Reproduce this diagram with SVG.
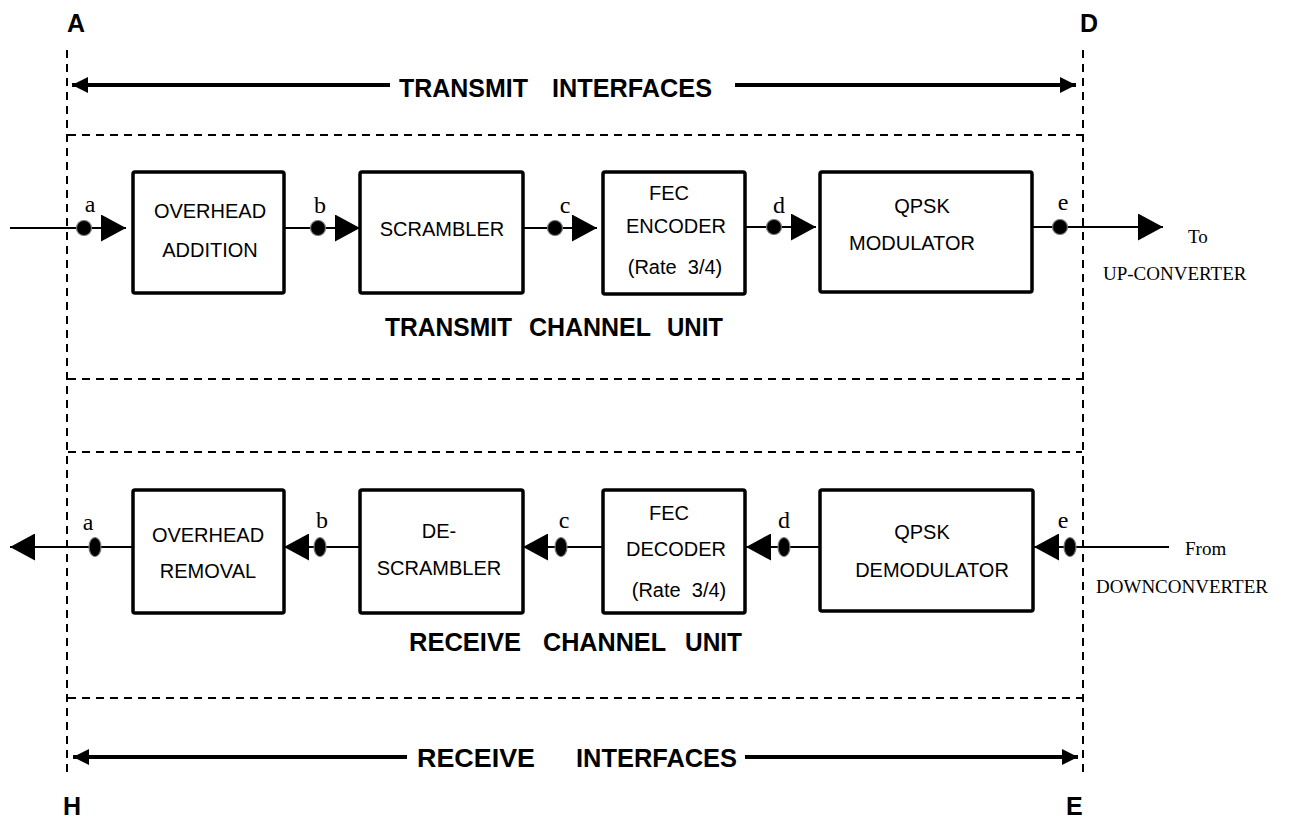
<svg xmlns="http://www.w3.org/2000/svg" width="1296" height="821" viewBox="0 0 1296 821">
<style>
.box{fill:#fff;stroke:#000;stroke-width:3.5}
.dash{fill:none;stroke:#000;stroke-width:2;stroke-dasharray:8 6}
.conn{stroke:#000;stroke-width:2;fill:none}
.iface{stroke:#000;stroke-width:4;fill:none}
.lbl{font-family:"Liberation Sans",Arial,sans-serif;font-size:20px;text-anchor:middle;fill:#000}
.bold{font-family:"Liberation Sans",Arial,sans-serif;font-weight:bold;fill:#000}
.tm{font-family:"Liberation Serif","Times New Roman",serif;fill:#000}
.pt{font-size:24px;text-anchor:middle}
.ext{font-size:19px}
.dot{fill:#000;stroke:#777;stroke-width:1.2}
</style>
<defs>
<marker id="ah" markerUnits="userSpaceOnUse" markerWidth="25" markerHeight="27" refX="25" refY="13.5" orient="auto">
<path d="M0,0 L25,13.5 L0,27 z" fill="#000"/>
</marker>
<marker id="ahs" markerUnits="userSpaceOnUse" markerWidth="16" markerHeight="16" refX="16" refY="8" orient="auto">
<path d="M0,0 L16,8 L0,16 z" fill="#000"/>
</marker>
</defs>
<rect width="1296" height="821" fill="#fff"/>

<g id="frame">
<line class="dash" x1="67" y1="50" x2="67" y2="775"/>
<line class="dash" x1="1083" y1="50" x2="1083" y2="775"/>
<line class="dash" x1="68" y1="135" x2="1082" y2="135"/>
<line class="dash" x1="68" y1="379" x2="1082" y2="379"/>
<line class="dash" x1="68" y1="452" x2="1082" y2="452"/>
<line class="dash" x1="68" y1="698" x2="1082" y2="698"/>
<text class="bold" x="67" y="32" font-size="25">A</text>
<text class="bold" x="1080" y="32" font-size="25">D</text>
<text class="bold" x="63" y="815" font-size="25">H</text>
<text class="bold" x="1066" y="815" font-size="25">E</text>
</g>

<g id="transmit-interfaces">
<line class="iface" x1="390" y1="85" x2="72" y2="85" marker-end="url(#ahs)"/>
<line class="iface" x1="735" y1="85" x2="1076" y2="85" marker-end="url(#ahs)"/>
<text class="bold" y="97" font-size="26"><tspan x="399" textLength="129" lengthAdjust="spacingAndGlyphs">TRANSMIT</tspan><tspan x="552" textLength="160" lengthAdjust="spacingAndGlyphs">INTERFACES</tspan></text>
</g>

<g id="receive-interfaces">
<line class="iface" x1="407" y1="757" x2="73" y2="757" marker-end="url(#ahs)"/>
<line class="iface" x1="745" y1="757" x2="1078" y2="757" marker-end="url(#ahs)"/>
<text class="bold" y="767" font-size="26"><tspan x="417" textLength="118" lengthAdjust="spacingAndGlyphs">RECEIVE</tspan><tspan x="576" textLength="161" lengthAdjust="spacingAndGlyphs">INTERFACES</tspan></text>
</g>

<g id="transmit-unit-label">
<text class="bold" y="336" font-size="25"><tspan x="385" textLength="127" lengthAdjust="spacingAndGlyphs">TRANSMIT</tspan><tspan x="529" textLength="122" lengthAdjust="spacingAndGlyphs">CHANNEL</tspan><tspan x="667" textLength="56" lengthAdjust="spacingAndGlyphs">UNIT</tspan></text>
</g>
<g id="receive-unit-label">
<text class="bold" y="651" font-size="25"><tspan x="409" textLength="112" lengthAdjust="spacingAndGlyphs">RECEIVE</tspan><tspan x="543" textLength="123" lengthAdjust="spacingAndGlyphs">CHANNEL</tspan><tspan x="685" textLength="57" lengthAdjust="spacingAndGlyphs">UNIT</tspan></text>
</g>

<g id="connectors">
<line class="conn" x1="10" y1="228" x2="126" y2="228" marker-end="url(#ah)"/>
<line class="conn" x1="284" y1="228" x2="360" y2="228" marker-end="url(#ah)"/>
<line class="conn" x1="523" y1="228" x2="597" y2="228" marker-end="url(#ah)"/>
<line class="conn" x1="745" y1="227" x2="816" y2="227" marker-end="url(#ah)"/>
<line class="conn" x1="1032" y1="227" x2="1163" y2="227" marker-end="url(#ah)"/>
<line class="conn" x1="133" y1="547" x2="10" y2="547" marker-end="url(#ah)"/>
<line class="conn" x1="360" y1="547" x2="284" y2="547" marker-end="url(#ah)"/>
<line class="conn" x1="603" y1="547" x2="523" y2="547" marker-end="url(#ah)"/>
<line class="conn" x1="820" y1="547" x2="746" y2="547" marker-end="url(#ah)"/>
<line class="conn" x1="1169" y1="547" x2="1034" y2="547" marker-end="url(#ah)"/>
</g>

<g id="points">
<circle class="dot" cx="84" cy="228" r="7.5"/>
<circle class="dot" cx="318" cy="228" r="7.5"/>
<circle class="dot" cx="555" cy="228" r="7.5"/>
<circle class="dot" cx="774" cy="227" r="7.5"/>
<circle class="dot" cx="1060" cy="227" r="7.5"/>
<ellipse class="dot" cx="95" cy="547" rx="6" ry="9.5"/>
<ellipse class="dot" cx="320" cy="547" rx="6" ry="9.5"/>
<ellipse class="dot" cx="561" cy="547" rx="6" ry="9.5"/>
<ellipse class="dot" cx="784" cy="547" rx="6" ry="9.5"/>
<ellipse class="dot" cx="1070" cy="547" rx="6" ry="9.5"/>
<text class="tm pt" x="90" y="212">a</text>
<text class="tm pt" x="320" y="213">b</text>
<text class="tm pt" x="565" y="213">c</text>
<text class="tm pt" x="779" y="213">d</text>
<text class="tm pt" x="1063" y="210">e</text>
<text class="tm pt" x="88" y="530">a</text>
<text class="tm pt" x="322" y="528">b</text>
<text class="tm pt" x="564" y="528">c</text>
<text class="tm pt" x="784" y="528">d</text>
<text class="tm pt" x="1063" y="528">e</text>
<text class="tm ext" x="1188" y="243">To</text>
<text class="tm ext" x="1103" y="280">UP-CONVERTER</text>
<text class="tm ext" x="1185" y="555">From</text>
<text class="tm ext" x="1096" y="593">DOWNCONVERTER</text>
</g>

<g id="overhead-addition">
<rect class="box" x="133" y="172" width="151" height="121" rx="2"/>
<text class="lbl" x="210" y="218">OVERHEAD</text>
<text class="lbl" x="210" y="257">ADDITION</text>
</g>
<g id="scrambler">
<rect class="box" x="360" y="172" width="163" height="121" rx="2"/>
<text class="lbl" x="442" y="236">SCRAMBLER</text>
</g>
<g id="fec-encoder">
<rect class="box" x="603" y="172" width="142" height="122" rx="2"/>
<text class="lbl" x="669" y="200">FEC</text>
<text class="lbl" x="676" y="233">ENCODER</text>
<text class="lbl" x="675" y="274" xml:space="preserve">(Rate  3/4)</text>
</g>
<g id="qpsk-modulator">
<rect class="box" x="820" y="172" width="212" height="120" rx="2"/>
<text class="lbl" x="922" y="213">QPSK</text>
<text class="lbl" x="912" y="250">MODULATOR</text>
</g>

<g id="overhead-removal">
<rect class="box" x="133" y="490" width="151" height="123" rx="2"/>
<text class="lbl" x="208" y="542">OVERHEAD</text>
<text class="lbl" x="208" y="578">REMOVAL</text>
</g>
<g id="descrambler">
<rect class="box" x="360" y="490" width="163" height="123" rx="2"/>
<text class="lbl" x="439" y="538">DE-</text>
<text class="lbl" x="439" y="575">SCRAMBLER</text>
</g>
<g id="fec-decoder">
<rect class="box" x="603" y="490" width="142" height="123" rx="2"/>
<text class="lbl" x="669" y="520">FEC</text>
<text class="lbl" x="676" y="556">DECODER</text>
<text class="lbl" x="679" y="597" xml:space="preserve">(Rate  3/4)</text>
</g>
<g id="qpsk-demodulator">
<rect class="box" x="820" y="490" width="213" height="121" rx="2"/>
<text class="lbl" x="922" y="539">QPSK</text>
<text class="lbl" x="932" y="577">DEMODULATOR</text>
</g>
</svg>
